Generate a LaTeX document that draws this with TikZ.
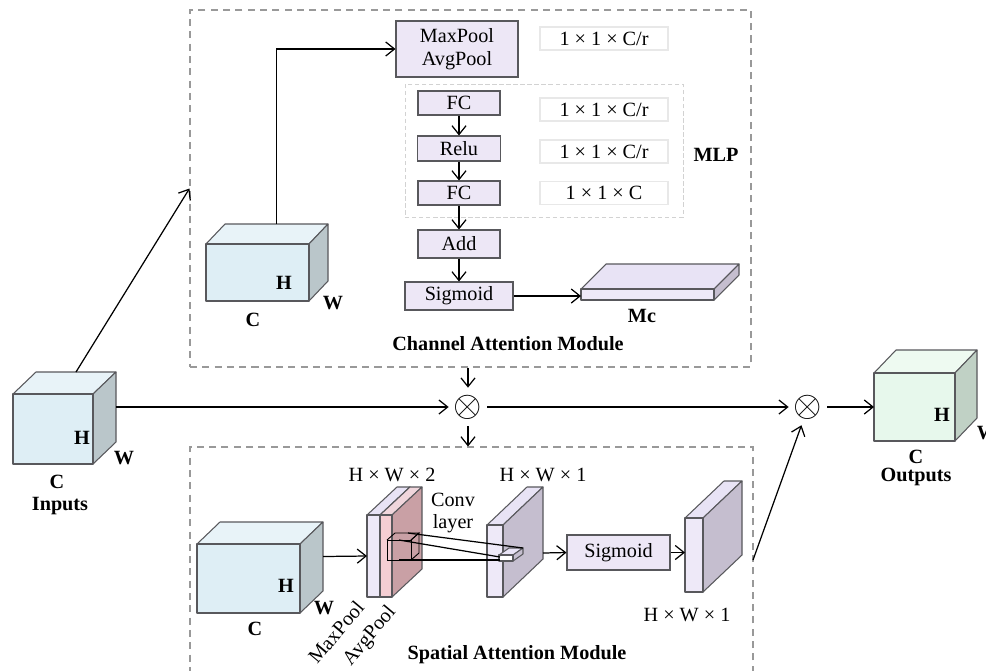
\documentclass[tikz,border=0pt]{standalone}
\usepackage{fontspec}
\setmainfont{Liberation Serif}
\usetikzlibrary{arrows.meta}

\definecolor{boxfill}{RGB}{237,231,246}
\definecolor{boxline}{RGB}{88,88,92}
\definecolor{blue}{RGB}{222,238,245}
\definecolor{bluetop}{RGB}{232,243,248}
\definecolor{blueside}{RGB}{186,198,202}
\definecolor{green}{RGB}{231,248,236}
\definecolor{greentop}{RGB}{238,250,241}
\definecolor{greenside}{RGB}{192,209,197}
\definecolor{slab}{RGB}{238,233,248}
\definecolor{slabtop}{RGB}{232,227,245}
\definecolor{slabside}{RGB}{197,190,207}
\definecolor{pink}{RGB}{245,206,211}
\definecolor{pinktop}{RGB}{240,214,220}
\definecolor{pinkside}{RGB}{201,160,165}

\newcommand{\pxu}{0.02cm}
% name, front face (x1,y1)-(x2,y2), depth dx dy, colour scheme
\newcommand{\cuboid}[8]{%
    \draw[edge, fill=#8top] (#2,#3) -- ++(#6,-#7) -- ++(#4-#2,0) -- (#4,#3) -- cycle;
    \draw[edge, fill=#8side] (#4,#3) -- ++(#6,-#7) -- ++(0,#5-#3) -- (#4,#5) -- cycle;
    \draw[edge, fill=#8] (#2,#3) rectangle (#4,#5);
    \coordinate (#1-west) at (#2,{(#3+#5)/2});
    \coordinate (#1-east) at (#4+#6,{(#3+#5)/2-#7});
    \coordinate (#1-top) at ({(#2+#4)/2+#6},#3-#7);
}

\tikzset{
    edge/.style={draw=boxline, line width=0.6pt, line join=round},
    procbox/.style={draw=boxline, fill=boxfill, line width=0.6pt, inner sep=0pt, align=center},
    dimbox/.style={draw=gray!18, fill=white, line width=0.6pt, inner sep=0pt,
        minimum width=128*\pxu, minimum height=23*\pxu},
    modbox/.style={draw=gray!80, dash pattern=on 4pt off 3pt, line width=0.6pt, inner sep=0pt},
    mlpbox/.style={draw=gray!35, dash pattern=on 2.5pt off 1.5pt, line width=0.5pt, inner sep=0pt},
    arr/.style={-{Straight Barb[length=5pt,width=8pt]}, line width=0.7pt},
    lab/.style={font=\fontsize{11.5}{13}\selectfont\bfseries},
    mulop/.style={circle, inner sep=0pt, minimum size=38*\pxu, font=\fontsize{22}{22}\selectfont},
}

\begin{document}
\begin{tikzpicture}[x=\pxu, y=-\pxu, font=\fontsize{11.5}{13}\selectfont]
    \useasboundingbox (0,0) rectangle (986,670);
    \clip (0,0) rectangle (986,670);

    % module frames
    \node[modbox, minimum width=561*\pxu, minimum height=357*\pxu] (cam) at (470.5,188.5) {};
    \node[modbox, minimum width=563*\pxu, minimum height=253*\pxu] (sam) at (471.5,573.5) {};
    \node[mlpbox, minimum width=278*\pxu, minimum height=133*\pxu] (mlp) at (544,150.5) {};

    % channel attention
    \node[procbox, minimum width=122*\pxu, minimum height=56*\pxu] (pool) at (457,49) {MaxPool\\AvgPool};
    \node[procbox, minimum width=82*\pxu, minimum height=24*\pxu] (fc1) at (459,103) {FC};
    \node[procbox, minimum width=83*\pxu, minimum height=25*\pxu] (relu) at (459,148.5) {Relu};
    \node[procbox, minimum width=82*\pxu, minimum height=24*\pxu] (fc2) at (459,193) {FC};
    \node[procbox, minimum width=82*\pxu, minimum height=28*\pxu] (add) at (459,244) {Add};
    \node[procbox, minimum width=108*\pxu, minimum height=28*\pxu] (sig1) at (459,296) {Sigmoid};
    \node[dimbox] (d0) at (604,38.5) {1 × 1 × C/r};
    \node[dimbox] (d1) at (604,109.5) {1 × 1 × C/r};
    \node[dimbox] (d2) at (604,151.5) {1 × 1 × C/r};
    \node[dimbox] (d3) at (604,193) {1 × 1 × C};
    \node[lab] (mlptxt) at (716,155) {MLP};

    \cuboid{chc}{206}{244}{309}{301}{19}{20}{blue}
    \node[lab] at (284,283) {H};
    \node[lab] at (333,303) {W};
    \node[lab] at (253,320) {C};

    \cuboid{mc}{581}{289}{714}{300}{25}{25}{slab}
    \node[lab] (mctxt) at (642,316) {Mc};
    \node[lab] (camtxt) at (508,344) {Channel Attention Module};

    % inputs and outputs
    \cuboid{in}{13}{394}{93}{464}{23}{22}{blue}
    \node[lab] at (82,438) {H};
    \node[lab] at (124,458) {W};
    \node[lab] at (57,482) {C};
    \node[lab] at (60,506) {Inputs};

    \cuboid{out}{874}{373}{955}{441}{22}{23}{green}
    \node[lab] at (942,415) {H};
    \node[lab] at (987,433) {W};
    \node[lab] at (916,457) {C};
    \node[lab] at (916,477) {Outputs};

    \node[mulop] (mul1) at (468,407) {$\otimes$};
    \node[mulop] (mul2) at (808,407) {$\otimes$};

    % spatial attention
    \cuboid{sc}{197}{544}{300}{613}{23}{22}{blue}
    \node[lab] at (286,586) {H};
    \node[lab] at (324,608) {W};
    \node[lab] at (255,629) {C};

    \cuboid{hw2a}{367}{515}{380}{597}{30}{28}{slab}
    \cuboid{hw2}{380}{515}{392}{597}{30}{28}{pink}
    \cuboid{hw1}{487}{525}{503}{597}{40}{38}{slab}
    \cuboid{fin}{685}{518}{703}{592}{39}{37}{slab}

    % conv kernel
    \draw[line width=0.5pt] (387,540) rectangle (411,560);
    \draw[line width=0.5pt] (387,540) -- ++(8,-7) -- ++(24,0) -- (411,540);
    \draw[line width=0.5pt] (411,540) -- ++(8,-7) -- ++(0,20) -- (411,560);
    \draw[edge, fill=slabtop] (499,555) -- (509,548) -- (523,548) -- (513,555) -- cycle;
    \draw[edge, fill=slabside] (513,555) -- (523,548) -- (523,554) -- (513,561) -- cycle;
    \draw[edge, fill=white] (499,555) rectangle (513,561);
    \draw[line width=0.7pt] (408,533) -- (523,548);
    \draw[line width=0.7pt] (399,540) -- (500,557);
    \draw[line width=0.7pt] (399,560) -- (500,560);

    \node (hw2txt) at (392,475) {H × W × 2};
    \node (hw1txt) at (543,475) {H × W × 1};
    \node[align=center] (convtxt) at (453,513) {Conv\\layer};
    \node[rotate=50] (maxtxt) at (336,632) {MaxPool};
    \node[rotate=50] (avgtxt) at (370,636) {AvgPool};
    \node[procbox, minimum width=103*\pxu, minimum height=35*\pxu] (sig2) at (618.5,552.5) {Sigmoid};
    \node (fintxt) at (687,615) {H × W × 1};
    \node[lab] (samtxt) at (517,655) {Spatial Attention Module};

    % connectors
    \draw[arr] (in-top) -- (cam.west);
    \draw[arr] (chc-top) |- (pool.west);
    \draw[arr] (fc1) -- (relu);
    \draw[arr] (relu) -- (fc2);
    \draw[arr] (fc2) -- (add);
    \draw[arr] (add) -- (sig1);
    \draw[arr] (sig1.east) -- (sig1.east -| mc-west);
    \draw[arr] (in-east) -- (mul1);
    \draw[arr] (mul1) -- (mul2);
    \draw[arr] (mul2) -- (out-west);
    \draw[arr] (mul1 |- cam.south) -- (mul1);
    \draw[arr] (mul1) -- (mul1 |- sam.north);
    \draw[arr] (sc-east) -- (hw2a-west);
    \coordinate (hw1-out) at (543,553);
    \draw[arr] (hw1-out) -- (sig2.west);
    \draw[arr] (sig2.east) -- (sig2.east -| fin-west);
    \coordinate (sam-out) at (753,560);
    \draw[arr] (sam-out) -- (mul2);
\end{tikzpicture}
\end{document}
